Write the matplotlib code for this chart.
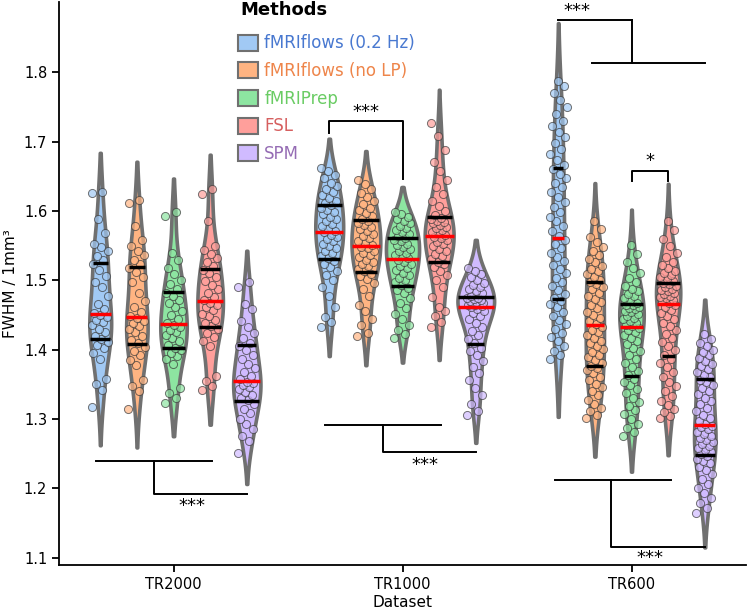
import numpy as np
import matplotlib.pyplot as plt
from matplotlib.patches import Patch

datasets = ['TR2000', 'TR1000', 'TR600']
methods = ['fMRIflows (0.2 Hz)', 'fMRIflows (no LP)', 'fMRIPrep', 'FSL', 'SPM']

# FWHM values per subject
tr2000_flows02 = [1.318, 1.342, 1.350, 1.357, 1.386, 1.395, 1.402, 1.407, 1.411,
                  1.416, 1.420, 1.425, 1.430, 1.436, 1.440, 1.443, 1.447, 1.450,
                  1.453, 1.458, 1.466, 1.478, 1.490, 1.497, 1.506, 1.515, 1.523,
                  1.529, 1.535, 1.542, 1.548, 1.553, 1.568, 1.589, 1.626, 1.628]
tr2000_flowsnolp = [1.314, 1.340, 1.348, 1.356, 1.378, 1.385, 1.392, 1.398, 1.404,
                    1.409, 1.414, 1.420, 1.425, 1.430, 1.434, 1.438, 1.442, 1.446,
                    1.449, 1.455, 1.462, 1.470, 1.482, 1.497, 1.505, 1.512, 1.518,
                    1.524, 1.530, 1.536, 1.543, 1.550, 1.558, 1.578, 1.612, 1.616]
tr2000_fmriprep = [1.323, 1.330, 1.338, 1.345, 1.380, 1.386, 1.391, 1.395, 1.399,
                   1.403, 1.407, 1.412, 1.417, 1.421, 1.425, 1.429, 1.433, 1.436,
                   1.439, 1.444, 1.450, 1.456, 1.462, 1.467, 1.472, 1.477, 1.482,
                   1.487, 1.494, 1.501, 1.509, 1.518, 1.530, 1.540, 1.593, 1.599]
tr2000_fsl = [1.342, 1.348, 1.355, 1.362, 1.405, 1.412, 1.418, 1.424, 1.430,
              1.434, 1.438, 1.443, 1.448, 1.452, 1.457, 1.461, 1.465, 1.468,
              1.471, 1.476, 1.481, 1.487, 1.493, 1.499, 1.505, 1.510, 1.515,
              1.520, 1.526, 1.532, 1.538, 1.544, 1.550, 1.585, 1.625, 1.631]
tr2000_spm = [1.251, 1.268, 1.276, 1.285, 1.293, 1.300, 1.308, 1.315, 1.321,
              1.327, 1.331, 1.335, 1.339, 1.343, 1.346, 1.349, 1.352, 1.354,
              1.357, 1.362, 1.368, 1.374, 1.380, 1.386, 1.393, 1.399, 1.405,
              1.410, 1.417, 1.424, 1.432, 1.441, 1.458, 1.466, 1.491, 1.498]

tr1000_flows02 = [1.433, 1.440, 1.447, 1.462, 1.478, 1.490, 1.500, 1.507, 1.513, 1.519, 1.524, 1.528,
                  1.532, 1.535, 1.539, 1.543, 1.546, 1.550, 1.553, 1.557, 1.560, 1.563, 1.566, 1.569,
                  1.571, 1.574, 1.578, 1.581, 1.585, 1.588, 1.592, 1.595, 1.599, 1.602, 1.605, 1.608,
                  1.612, 1.615, 1.619, 1.623, 1.627, 1.631, 1.636, 1.641, 1.647, 1.652, 1.657, 1.662]
tr1000_flowsnolp = [1.419, 1.424, 1.436, 1.444, 1.456, 1.464, 1.478, 1.488, 1.496, 1.502, 1.506, 1.509,
                    1.513, 1.516, 1.520, 1.523, 1.527, 1.530, 1.534, 1.537, 1.540, 1.543, 1.546, 1.548,
                    1.551, 1.554, 1.557, 1.561, 1.564, 1.567, 1.571, 1.574, 1.577, 1.580, 1.583, 1.586,
                    1.589, 1.593, 1.597, 1.601, 1.605, 1.610, 1.615, 1.620, 1.626, 1.632, 1.639, 1.645]
tr1000_fmriprep = [1.417, 1.423, 1.429, 1.436, 1.444, 1.452, 1.460, 1.468, 1.475, 1.481, 1.486, 1.489,
                   1.493, 1.497, 1.500, 1.504, 1.508, 1.511, 1.515, 1.518, 1.521, 1.524, 1.527, 1.529,
                   1.532, 1.535, 1.537, 1.540, 1.543, 1.545, 1.548, 1.551, 1.553, 1.556, 1.558, 1.561,
                   1.564, 1.567, 1.570, 1.573, 1.576, 1.579, 1.582, 1.585, 1.588, 1.592, 1.596, 1.599]
tr1000_fsl = [1.433, 1.440, 1.448, 1.456, 1.462, 1.476, 1.490, 1.500, 1.508, 1.514, 1.519, 1.523,
              1.527, 1.531, 1.535, 1.538, 1.542, 1.545, 1.549, 1.552, 1.555, 1.558, 1.561, 1.563,
              1.566, 1.568, 1.570, 1.573, 1.575, 1.577, 1.580, 1.582, 1.584, 1.586, 1.588, 1.590,
              1.594, 1.600, 1.607, 1.615, 1.624, 1.634, 1.645, 1.657, 1.670, 1.688, 1.708, 1.727]
tr1000_spm = [1.306, 1.312, 1.322, 1.334, 1.345, 1.356, 1.366, 1.375, 1.384, 1.392, 1.398, 1.403,
              1.409, 1.415, 1.421, 1.427, 1.433, 1.439, 1.444, 1.449, 1.453, 1.456, 1.459, 1.461,
              1.463, 1.464, 1.465, 1.466, 1.467, 1.468, 1.469, 1.470, 1.472, 1.473, 1.474, 1.475,
              1.478, 1.481, 1.484, 1.487, 1.490, 1.493, 1.496, 1.500, 1.505, 1.509, 1.514, 1.518]

tr600_flows02 = [1.386, 1.392, 1.398, 1.405, 1.412, 1.418, 1.424, 1.430, 1.437, 1.443, 1.449, 1.455, 1.461, 1.466, 1.470,
                 1.474, 1.480, 1.486, 1.492, 1.498, 1.504, 1.510, 1.516, 1.522, 1.528, 1.534, 1.540, 1.546, 1.552, 1.558,
                 1.564, 1.571, 1.578, 1.585, 1.592, 1.599, 1.606, 1.613, 1.620, 1.627, 1.634, 1.641, 1.648, 1.654, 1.660,
                 1.666, 1.674, 1.682, 1.690, 1.698, 1.706, 1.714, 1.722, 1.730, 1.740, 1.750, 1.760, 1.770, 1.780, 1.788]
tr600_flowsnolp = [1.301, 1.306, 1.311, 1.316, 1.322, 1.328, 1.334, 1.340, 1.346, 1.351, 1.356, 1.361, 1.366, 1.370, 1.373,
                   1.377, 1.381, 1.385, 1.389, 1.393, 1.397, 1.401, 1.405, 1.409, 1.413, 1.417, 1.421, 1.425, 1.429, 1.433,
                   1.437, 1.441, 1.445, 1.450, 1.455, 1.460, 1.464, 1.469, 1.473, 1.478, 1.482, 1.487, 1.491, 1.494, 1.497,
                   1.501, 1.505, 1.509, 1.513, 1.517, 1.521, 1.526, 1.531, 1.536, 1.542, 1.548, 1.555, 1.563, 1.574, 1.585]
tr600_fmriprep = [1.275, 1.281, 1.287, 1.293, 1.300, 1.307, 1.313, 1.319, 1.325, 1.331, 1.337, 1.343, 1.349, 1.354, 1.358,
                  1.363, 1.369, 1.375, 1.381, 1.387, 1.393, 1.398, 1.403, 1.408, 1.413, 1.417, 1.421, 1.425, 1.428, 1.431,
                  1.434, 1.436, 1.439, 1.441, 1.444, 1.446, 1.449, 1.451, 1.454, 1.456, 1.458, 1.460, 1.462, 1.464, 1.465,
                  1.468, 1.471, 1.474, 1.477, 1.480, 1.484, 1.488, 1.492, 1.497, 1.503, 1.510, 1.518, 1.527, 1.538, 1.551]
tr600_fsl = [1.301, 1.305, 1.310, 1.315, 1.320, 1.326, 1.333, 1.340, 1.347, 1.354, 1.361, 1.368, 1.375, 1.381, 1.387,
             1.393, 1.399, 1.405, 1.411, 1.417, 1.423, 1.429, 1.434, 1.439, 1.444, 1.449, 1.453, 1.457, 1.461, 1.464,
             1.468, 1.470, 1.472, 1.474, 1.476, 1.478, 1.480, 1.482, 1.484, 1.486, 1.488, 1.490, 1.492, 1.494, 1.496,
             1.499, 1.502, 1.505, 1.508, 1.511, 1.514, 1.518, 1.522, 1.527, 1.533, 1.540, 1.549, 1.560, 1.573, 1.586]
tr600_spm = [1.165, 1.172, 1.179, 1.186, 1.193, 1.200, 1.207, 1.214, 1.220, 1.226, 1.231, 1.236, 1.240, 1.243, 1.246,
             1.249, 1.252, 1.255, 1.258, 1.261, 1.264, 1.267, 1.270, 1.273, 1.276, 1.279, 1.282, 1.285, 1.288, 1.290,
             1.293, 1.297, 1.301, 1.306, 1.311, 1.316, 1.321, 1.326, 1.331, 1.336, 1.341, 1.345, 1.349, 1.353, 1.356,
             1.360, 1.364, 1.368, 1.372, 1.376, 1.380, 1.384, 1.388, 1.392, 1.396, 1.400, 1.405, 1.410, 1.416, 1.422]

fwhm = [
    [tr2000_flows02, tr2000_flowsnolp, tr2000_fmriprep, tr2000_fsl, tr2000_spm],
    [tr1000_flows02, tr1000_flowsnolp, tr1000_fmriprep, tr1000_fsl, tr1000_spm],
    [tr600_flows02, tr600_flowsnolp, tr600_fmriprep, tr600_fsl, tr600_spm],
]

pastel = ['#a1c9f4', '#ffb482', '#8de5a1', '#ff9f9b', '#d0bbff']
muted = ['#4878d0', '#ee854a', '#6acc64', '#d65f5f', '#956cb4']


def kde(vals, grid, factor=0.48):
    vals = np.asarray(vals)
    bw = factor * vals.std(ddof=1)
    z = (grid[:, None] - vals[None, :]) / bw
    return np.exp(-0.5 * z ** 2).sum(1) / (len(vals) * bw * np.sqrt(2 * np.pi)), bw


fig = plt.figure(figsize=(7.49, 6.12), dpi=100)
ax = fig.add_axes([0.0788, 0.0768, 0.9172, 0.9200])

# densities (area scaling, like seaborn)
dens = {}
for i in range(len(datasets)):
    for j in range(len(methods)):
        v = np.asarray(fwhm[i][j])
        _, bw = kde(v, np.array([v.mean()]))
        grid = np.linspace(v.min() - 1.5 * bw, v.max() + 1.5 * bw, 200)
        d, _ = kde(v, grid)
        dens[i, j] = (grid, d)
dmax = max(d.max() for _, d in dens.values())

hue_w = 0.8 / len(methods)
half = hue_w / 2
offsets = (np.arange(len(methods)) - 2) * hue_w

for i in range(len(datasets)):
    for j in range(len(methods)):
        x0 = i + offsets[j]
        v = np.sort(np.asarray(fwhm[i][j]))
        grid, d = dens[i, j]
        w = d / dmax * half
        ax.fill_betweenx(grid, x0 - w, x0 + w, facecolor=pastel[j],
                         edgecolor='#707070', linewidth=2.6, zorder=1)
        # points with a fixed jitter pattern
        jit = ((np.arange(len(v)) * 0.618034) % 1 - 0.5) * 0.075
        ax.scatter(x0 + jit, v, s=34, facecolor=pastel[j], edgecolor='#3a3a3a',
                   linewidth=0.7, alpha=0.7, zorder=2)
        q1, med, q3 = np.percentile(v, [25, 50, 75])
        for q, c in [(q1, 'black'), (q3, 'black'), (med, 'red')]:
            hw = np.interp(q, grid, w)
            ax.plot([x0 - hw, x0 + hw], [q, q], color=c, lw=2.5, zorder=3,
                    solid_capstyle='butt')

# significance brackets
lk = dict(color='black', lw=1.4, zorder=4)
# TR2000: group vs SPM
ax.plot([-0.34, 0.17], [1.2395, 1.2395], **lk)
ax.plot([-0.085, -0.085, 0.32], [1.2395, 1.192, 1.192], **lk)
ax.text(0.08, 1.175, '***', ha='center', va='center', fontsize=13)
# TR1000: fMRIflows (0.2 Hz) vs fMRIPrep
ax.plot([0.68, 0.68, 1.0, 1.0], [1.713, 1.730, 1.730, 1.646], **lk)
ax.text(0.84, 1.742, '***', ha='center', va='center', fontsize=13)
# TR1000: group vs SPM
ax.plot([0.66, 1.17], [1.292, 1.292], **lk)
ax.plot([0.915, 0.915, 1.32], [1.292, 1.252, 1.252], **lk)
ax.text(1.1, 1.234, '***', ha='center', va='center', fontsize=13)
# TR600: fMRIflows (0.2 Hz) vs rest
ax.plot([1.677, 2.0], [1.876, 1.876], **lk)
ax.plot([2.0, 2.0], [1.876, 1.814], **lk)
ax.plot([1.828, 2.322], [1.814, 1.814], **lk)
ax.text(1.76, 1.889, '***', ha='center', va='center', fontsize=13)
# TR600: fMRIPrep vs FSL
ax.plot([2.0, 2.0, 2.16, 2.16], [1.643, 1.658, 1.658, 1.643], **lk)
ax.text(2.08, 1.672, '*', ha='center', va='center', fontsize=13)
# TR600: group vs SPM
ax.plot([1.667, 2.173], [1.212, 1.212], **lk)
ax.plot([1.911, 1.911, 2.322], [1.212, 1.115, 1.115], **lk)
ax.text(2.08, 1.100, '***', ha='center', va='center', fontsize=13)

ax.set_xlim(-0.5, 2.5)
ax.set_ylim(1.0895, 1.9014)
ax.set_xticks(range(len(datasets)))
ax.set_xticklabels(datasets)
ax.set_yticks([1.1, 1.2, 1.3, 1.4, 1.5, 1.6, 1.7, 1.8])
ax.tick_params(labelsize=10.5, length=5, width=1.3)
for s in ['top', 'right']:
    ax.spines[s].set_visible(False)
for s in ['left', 'bottom']:
    ax.spines[s].set_linewidth(1.3)
ax.set_xlabel('Dataset', fontsize=11, labelpad=2)
ax.set_ylabel('FWHM / 1mm³', fontsize=11)

handles = [Patch(facecolor=pastel[j], edgecolor='#707070', linewidth=1.5) for j in range(len(methods))]
leg = fig.legend(handles, methods, loc='upper left', bbox_to_anchor=(0.306, 0.9575),
                 frameon=False, fontsize=12, borderpad=0.0, labelspacing=0.58,
                 handlelength=1.2, handleheight=1.1, handletextpad=0.4)
for t, c in zip(leg.get_texts(), muted):
    t.set_color(c)
fig.text(0.3214, 0.9837, 'Methods', fontsize=13, fontweight='bold',
         ha='left', va='center')

fig.savefig('out.png', dpi=100)
